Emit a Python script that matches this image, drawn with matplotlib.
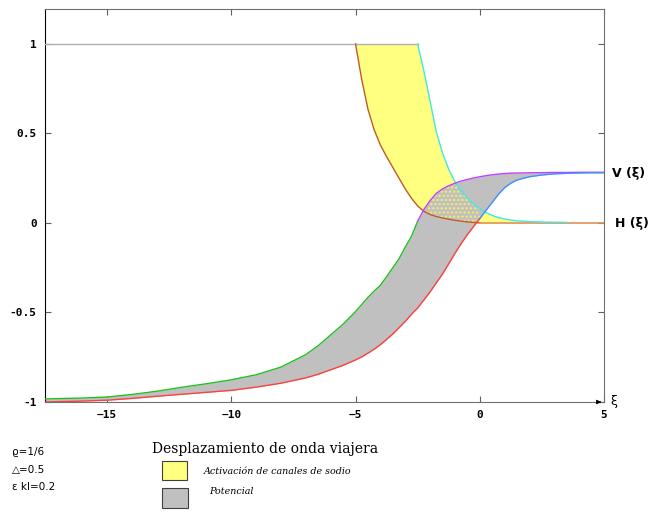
import numpy as np
import matplotlib
matplotlib.use("Agg")
import matplotlib.pyplot as plt
from matplotlib.patches import Rectangle

# common xi grid
xi = np.array([-17.5, -17, -16, -15, -14, -13, -12, -11, -10, -9, -8, -7, -6.5, -6, -5.5,
               -5, -4.75, -4.5, -4.25, -4, -3.75, -3.5, -3.25, -3, -2.75, -2.5, -2.25,
               -2, -1.75, -1.5, -1.25, -1, -0.75, -0.5, -0.25, 0, 0.25, 0.5, 0.75,
               1, 1.25, 1.5, 2, 2.5, 3, 3.5, 4, 4.5, 5])

# V(xi) band
v_upper = np.array([-0.983, -0.981, -0.978, -0.972, -0.958, -0.94, -0.918, -0.898, -0.876,
                    -0.848, -0.805, -0.735, -0.685, -0.625, -0.565,
                    -0.495, -0.455, -0.415, -0.38, -0.348, -0.3, -0.25, -0.2, -0.135,
                    -0.075, 0.01, 0.075, 0.125, 0.165, 0.19, 0.208, 0.222, 0.234,
                    0.243, 0.251, 0.258, 0.264, 0.269, 0.273, 0.276, 0.278, 0.279,
                    0.28, 0.281, 0.282, 0.282, 0.283, 0.283, 0.283])
v_lower = np.array([-1.0, -0.998, -0.995, -0.99, -0.98, -0.968, -0.957, -0.946, -0.935,
                    -0.917, -0.895, -0.865, -0.845, -0.82, -0.795,
                    -0.765, -0.748, -0.727, -0.705, -0.68, -0.65, -0.62, -0.585, -0.55,
                    -0.51, -0.475, -0.43, -0.385, -0.335, -0.285, -0.228, -0.17, -0.115,
                    -0.065, -0.02, 0.025, 0.07, 0.115, 0.16, 0.197, 0.222, 0.24,
                    0.258, 0.268, 0.274, 0.277, 0.279, 0.28, 0.28])

# H(xi) band
h_left = np.array([1, 1, 1, 1, 1, 1, 1, 1, 1, 1, 1, 1, 1, 1, 1,
                   1.0, 0.8, 0.635, 0.52, 0.435, 0.37, 0.31, 0.25, 0.19, 0.138, 0.095,
                   0.065, 0.047, 0.036, 0.028, 0.021, 0.015, 0.01, 0.006, 0.003, 0.0,
                   0, 0, 0, 0, 0, 0, 0, 0, 0, 0, 0, 0, 0])
h_right = np.array([1, 1, 1, 1, 1, 1, 1, 1, 1, 1, 1, 1, 1, 1, 1,
                    1, 1, 1, 1, 1, 1, 1, 1, 1, 1, 1.0,
                    0.85, 0.68, 0.51, 0.39, 0.3, 0.23, 0.18, 0.14, 0.105, 0.08,
                    0.058, 0.042, 0.03, 0.022, 0.016, 0.012, 0.008, 0.005, 0.004, 0.003,
                    0.003, 0.003, 0.003])

params = ["ϱ=1/6", "△=0.5", "ε kI=0.2"]

fig = plt.figure(figsize=(6.51, 5.12), dpi=100)
ax = fig.add_axes([45 / 651, 1 - 402 / 512, 559 / 651, 393 / 512])

yel = "#ffff80"
gry = "#c0c0c0"

hmask = (xi >= -5) & (xi <= 3.5)
ax.fill_between(xi, h_left, h_right, where=hmask, color=yel, lw=0, zorder=1)
ax.fill_between(xi, v_lower, v_upper, color=gry, lw=0, zorder=2)

# overlap of both bands, speckled
lo = np.maximum(v_lower, h_left)
hi = np.minimum(v_upper, h_right)
ax.fill_between(xi, lo, hi, where=(hi > lo) & hmask, facecolor="none",
                edgecolor="#f8f060", hatch="....", lw=0, zorder=3)

# band outlines
ax.plot(xi[xi <= -2.5], np.ones((xi <= -2.5).sum()), color="#b0b0b0", lw=1, zorder=4)
m = xi >= -5
ax.plot(xi[m & (xi <= 0)], h_left[m & (xi <= 0)], color="#c05a28", lw=1, zorder=4)
ax.plot(xi[xi >= 0], h_left[xi >= 0], color="#e0905a", lw=1.2, zorder=4)
m = (xi >= -2.5) & (xi <= 3.5)
ax.plot(xi[m], h_right[m], color="#40e8e8", lw=1, zorder=4)

ax.plot(xi[xi <= -2.5], v_upper[xi <= -2.5], color="#20c020", lw=1, zorder=5)
ax.plot(xi[xi >= -2.5], v_upper[xi >= -2.5], color="#c040ff", lw=1, zorder=5)
ax.plot(xi[xi <= 0], v_lower[xi <= 0], color="#ff4040", lw=1, zorder=5)
ax.plot(xi[xi >= 0], v_lower[xi >= 0], color="#4090ff", lw=1, zorder=5)

ax.set_xlim(-17.5, 5)
ax.set_ylim(-1, 1.195)
ax.set_xticks([-15, -10, -5, 0, 5])
ax.set_yticks([-1, -0.5, 0, 0.5, 1])
ax.set_yticklabels(["-1", "-0.5", "0", "0.5", "1"])
ax.tick_params(direction="in", length=4, top=True, right=True, width=0.8,
               color="#606060", labelsize=8, pad=6)
for lab in ax.get_xticklabels() + ax.get_yticklabels():
    lab.set_fontfamily("DejaVu Sans Mono")
    lab.set_fontweight("bold")
ax.spines["left"].set_color("black")
for s in ["top", "right", "bottom"]:
    ax.spines[s].set_color("#707070")

# arrow at the end of the xi axis
ax.annotate("", xy=(5.0, -1), xytext=(4.7, -1), xycoords="data",
            arrowprops=dict(arrowstyle="-|>", color="black", lw=0.8,
                            mutation_scale=6), annotation_clip=False)

def px(x, y):
    return x / 651, 1 - y / 512

fig.text(*px(610, 402), "ξ", fontsize=9, va="center", ha="left")
fig.text(*px(612, 173), "V (ξ)", fontsize=9, fontweight="bold", va="center", ha="left")
fig.text(*px(615, 223), "H (ξ)", fontsize=9, fontweight="bold", va="center", ha="left")

fig.text(*px(265, 449), "Desplazamiento de onda viajera", family="DejaVu Serif",
         fontsize=10, ha="center", va="center")
fig.patches.append(Rectangle(px(162, 480), 25 / 651, 19 / 512, transform=fig.transFigure,
                             facecolor=yel, edgecolor="#404040", lw=0.8))
fig.patches.append(Rectangle(px(162, 508), 26 / 651, 20 / 512, transform=fig.transFigure,
                             facecolor=gry, edgecolor="#404040", lw=0.8))
fig.text(*px(204, 471), "Activación de canales de sodio", family="DejaVu Serif",
         style="italic", fontsize=6.8, ha="left", va="center")
fig.text(*px(209, 492), "Potencial", family="DejaVu Serif",
         style="italic", fontsize=6.8, ha="left", va="center")

for t, y in zip(params, [452, 470, 487]):
    fig.text(*px(12, y), t, fontsize=7.5, ha="left", va="center")

fig.savefig("out.png", dpi=100)
